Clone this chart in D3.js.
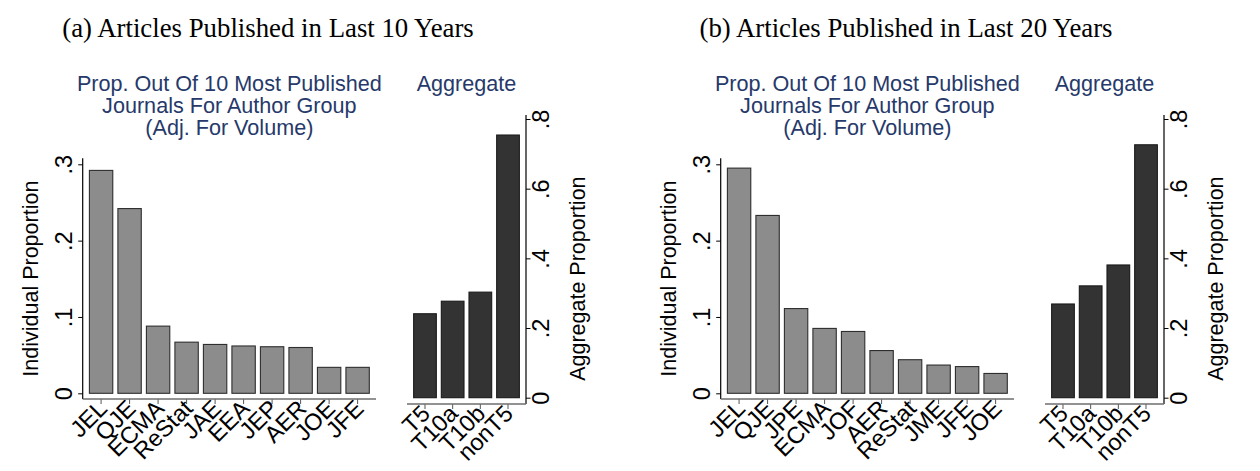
<!DOCTYPE html>
<html>
<head>
<meta charset="utf-8">
<script src="https://cdn.jsdelivr.net/npm/d3@7"></script>
<style>
  html, body { margin: 0; padding: 0; background: #fff; }
  svg { display: block; }
</style>
</head>
<body>
<svg id="chart" width="1260" height="471"></svg>
<script>
// ---------------- DATA ----------------
const panelTitles = ["(a) Articles Published in Last 10 Years", "(b) Articles Published in Last 20 Years"];
const subTitleIndiv = ["Prop. Out Of 10 Most Published", "Journals For Author Group", "(Adj. For Volume)"];
const subTitleAgg = ["Aggregate"];
const indivAxisTitle = "Individual Proportion";
const aggAxisTitle = "Aggregate Proportion";

const journals10 = ["JEL", "QJE", "ECMA", "ReStat", "JAE", "EEA", "JEP", "AER", "JOE", "JFE"];
const indiv10 = [0.292, 0.242, 0.088, 0.067, 0.064, 0.062, 0.061, 0.060, 0.034, 0.034];
const journals20 = ["JEL", "QJE", "JPE", "ECMA", "JOF", "AER", "ReStat", "JME", "JFE", "JOE"];
const indiv20 = [0.295, 0.233, 0.111, 0.085, 0.081, 0.056, 0.044, 0.037, 0.035, 0.026];

const aggCats = ["T5", "T10a", "T10b", "nonT5"];
const agg10 = [0.241, 0.277, 0.303, 0.754];
const agg20 = [0.269, 0.321, 0.381, 0.726];

const indivTicks = [0, 0.1, 0.2, 0.3];
const aggTicks = [0, 0.2, 0.4, 0.6, 0.8];

// ---------------- STYLE / LAYOUT ----------------
const FONT = "'Liberation Sans', Arial, Helvetica, sans-serif";
const SERIF = "'Liberation Serif', 'Times New Roman', serif";
const navy = "#26396a";
const grayFill = "#8c8c8c";
const darkFill = "#333333";
const barStroke = "#2e2e2e";
const fs = 21.6;
const axFs = 21.5;
const tickFs = 23.5;

const panelOffsets = [0, 638];
const titleCenters = [268, 268];

const svg = d3.select("#chart");
const fmt = d => d === 0 ? "0" : d3.format(".1f")(d).replace(/^0/, "");

const panels = [
  { title: panelTitles[0], cats: journals10, vals: indiv10, aggVals: agg10 },
  { title: panelTitles[1], cats: journals20, vals: indiv20, aggVals: agg20 }
];

panels.forEach((p, i) => {
  const g = svg.append("g").attr("transform", `translate(${panelOffsets[i]},0)`);

  // panel caption
  g.append("text")
    .attr("x", titleCenters[i]).attr("y", 37)
    .attr("text-anchor", "middle")
    .style("font-family", SERIF).style("font-size", "26.8px").attr("fill", "#000")
    .text(p.title);

  // ---------- individual chart ----------
  const ix0 = 82.7, ix1 = 376, iyTop = 158.3, iyBot = 399;
  const xI = d3.scaleBand().domain(p.cats).range([ix0, ix1]).paddingInner(0.18).paddingOuter(0.235);
  const yI = d3.scaleLinear().domain([0, 0.3]).range([393.3, 164.3]);

  subTitleIndiv.forEach((t, k) => {
    g.append("text")
      .attr("x", (ix0 + ix1) / 2).attr("y", 91 + 22 * k)
      .attr("text-anchor", "middle")
      .style("font-family", FONT).style("font-size", fs + "px").attr("fill", navy)
      .text(t);
  });

  g.append("g").selectAll("rect").data(p.vals).join("rect")
    .attr("x", (d, j) => xI(p.cats[j]))
    .attr("width", xI.bandwidth())
    .attr("y", d => yI(d))
    .attr("height", d => yI(0) - yI(d))
    .attr("fill", grayFill).attr("stroke", barStroke).attr("stroke-width", 1.1);

  // y axis
  const yAxI = g.append("g").attr("transform", `translate(${ix0},0)`)
    .call(d3.axisLeft(yI).tickValues(indivTicks).tickSize(4.5).tickFormat(fmt));
  yAxI.select(".domain").remove();
  yAxI.selectAll("line").attr("stroke", "#000").attr("stroke-width", 1);
  yAxI.selectAll("text")
    .attr("x", null).attr("dy", null)
    .attr("transform", "translate(-11,0) rotate(-90)")
    .attr("text-anchor", "middle")
    .style("font-family", FONT).style("font-size", tickFs + "px").attr("fill", "#000");
  g.append("line").attr("x1", ix0).attr("x2", ix0).attr("y1", iyTop).attr("y2", iyBot)
    .attr("stroke", "#000").attr("stroke-width", 1.2);

  // x axis
  const xAxI = g.append("g").attr("transform", `translate(0,${iyBot})`)
    .call(d3.axisBottom(xI).tickSize(5).tickSizeOuter(0));
  xAxI.select(".domain").remove();
  xAxI.selectAll("line").attr("stroke", "#555").attr("stroke-width", 1);
  xAxI.selectAll("text")
    .attr("y", null).attr("dy", null)
    .attr("transform", "translate(7.5,11) rotate(-45)")
    .attr("text-anchor", "end")
    .style("font-family", FONT).style("font-size", tickFs + "px").attr("fill", "#000");
  g.append("line").attr("x1", ix0).attr("x2", ix1).attr("y1", iyBot).attr("y2", iyBot)
    .attr("stroke", "#6e6e6e").attr("stroke-width", 1.6);

  g.append("text")
    .attr("transform", `translate(38,${(iyTop + iyBot) / 2}) rotate(-90)`)
    .attr("text-anchor", "middle")
    .style("font-family", FONT).style("font-size", axFs + "px").attr("fill", "#000")
    .text(indivAxisTitle);

  // ---------- aggregate chart ----------
  const ax0 = 407, ax1 = 526, ayTop = 115, ayBot = 404;
  const xA = d3.scaleBand().domain(aggCats).range([ax0, ax1]).paddingInner(0.18).paddingOuter(0.24);
  const yA = d3.scaleLinear().domain([0, 0.8]).range([397.7, 119]);

  g.append("text")
    .attr("x", (ax0 + ax1) / 2).attr("y", 91)
    .attr("text-anchor", "middle")
    .style("font-family", FONT).style("font-size", fs + "px").attr("fill", navy)
    .text(subTitleAgg[0]);

  g.append("g").selectAll("rect").data(p.aggVals).join("rect")
    .attr("x", (d, j) => xA(aggCats[j]))
    .attr("width", xA.bandwidth())
    .attr("y", d => yA(d))
    .attr("height", d => yA(0) - yA(d))
    .attr("fill", darkFill).attr("stroke", "#1a1a1a").attr("stroke-width", 1.1);

  const yAxA = g.append("g").attr("transform", `translate(${ax1},0)`)
    .call(d3.axisRight(yA).tickValues(aggTicks).tickSize(4.5).tickFormat(fmt));
  yAxA.select(".domain").remove();
  yAxA.selectAll("line").attr("stroke", "#000").attr("stroke-width", 1);
  yAxA.selectAll("text")
    .attr("x", null).attr("dy", null)
    .attr("transform", "translate(22.5,0) rotate(-90)")
    .attr("text-anchor", "middle")
    .style("font-family", FONT).style("font-size", tickFs + "px").attr("fill", "#000");
  g.append("line").attr("x1", ax1).attr("x2", ax1).attr("y1", ayTop).attr("y2", ayBot)
    .attr("stroke", "#000").attr("stroke-width", 1.2);

  const xAxA = g.append("g").attr("transform", `translate(0,${ayBot})`)
    .call(d3.axisBottom(xA).tickSize(5).tickSizeOuter(0));
  xAxA.select(".domain").remove();
  xAxA.selectAll("line").attr("stroke", "#555").attr("stroke-width", 1);
  xAxA.selectAll("text")
    .attr("y", null).attr("dy", null)
    .attr("transform", "translate(6.5,11) rotate(-45)")
    .attr("text-anchor", "end")
    .style("font-family", FONT).style("font-size", tickFs + "px").attr("fill", "#000");
  g.append("line").attr("x1", ax0).attr("x2", ax1).attr("y1", ayBot).attr("y2", ayBot)
    .attr("stroke", "#6e6e6e").attr("stroke-width", 1.6);

  g.append("text")
    .attr("transform", `translate(585,${(iyTop + iyBot) / 2}) rotate(-90)`)
    .attr("text-anchor", "middle")
    .style("font-family", FONT).style("font-size", axFs + "px").attr("fill", "#000")
    .text(aggAxisTitle);
});
</script>
</body>
</html>
